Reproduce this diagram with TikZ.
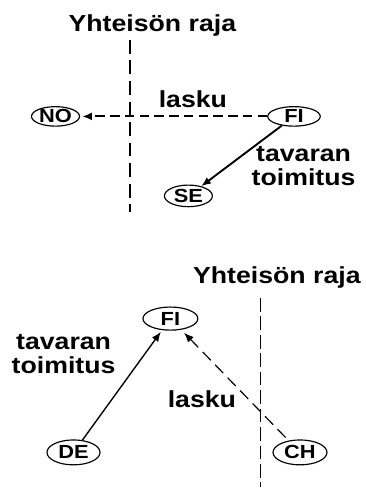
\documentclass[tikz,border=0pt]{standalone}
\usepackage{fontspec}
\setmainfont{Liberation Sans}[FakeStretch=1.15]
\usepackage{tikz}
\usetikzlibrary{arrows.meta,shapes.geometric}

\begin{document}
\begin{tikzpicture}[>={Latex[length=3.2mm,width=2.6mm]},
  maa/.style={draw,ellipse,line width=1.1pt,inner sep=0pt,minimum width=1.6cm,minimum height=0.65cm,font=\fontsize{18}{20}\selectfont\bfseries},
  teksti/.style={font=\fontsize{22}{23}\selectfont\bfseries,align=center},
  raja/.style={dash pattern=on 13pt off 6.5pt}]
\useasboundingbox (0cm,0cm) rectangle (12.2cm,-16.267cm);
% ylempi kuva
\node[teksti,anchor=base] (otsikko1) at (5.08cm,-1.06cm) {Yhteisön raja};
\draw[line width=2.4pt,raja] (4.33cm,-1.33cm) -- (4.33cm,-7.07cm);
\node[maa] (no) at (1.85cm,-3.88cm) {NO};
\node[maa,minimum width=1.75cm] (fi1) at (9.8cm,-3.88cm) {FI};
\node[maa,minimum height=0.72cm] (se) at (6.28cm,-6.53cm) {SE};
\node[teksti,anchor=base] (lasku1) at (6.43cm,-3.6cm) {lasku};
\node[teksti] (toimitus1) at (10.12cm,-5.53cm) {tavaran\\toimitus};
\draw[->,line width=1.8pt,dash pattern=on 9pt off 5pt,shorten >=2pt] (fi1) -- (no);
\draw[->,line width=1.8pt] (fi1) -- (se);
% alempi kuva
\node[teksti,anchor=base] (otsikko2) at (9.23cm,-9.44cm) {Yhteisön raja};
\draw[line width=1.1pt,dash pattern=on 13pt off 4.5pt] (8.67cm,-9.93cm) -- (8.67cm,-16.23cm);
\node[maa,minimum width=1.83cm,minimum height=0.77cm] (fi2) at (5.68cm,-10.62cm) {FI};
\node[maa,minimum width=1.77cm,minimum height=0.83cm] (de) at (2.45cm,-15.08cm) {DE};
\node[maa,minimum width=1.8cm,minimum height=0.83cm] (ch) at (10cm,-15.08cm) {CH};
\node[teksti] (toimitus2) at (2.12cm,-11.8cm) {tavaran\\toimitus};
\node[teksti,anchor=base] (lasku2) at (6.73cm,-13.6cm) {lasku};
\draw[->,line width=1.3pt,shorten >=2pt] (de) -- (fi2);
\draw[->,line width=1.1pt,dash pattern=on 11pt off 6pt,shorten >=4pt,shorten <=4pt] (ch) -- (fi2);
\end{tikzpicture}
\end{document}
